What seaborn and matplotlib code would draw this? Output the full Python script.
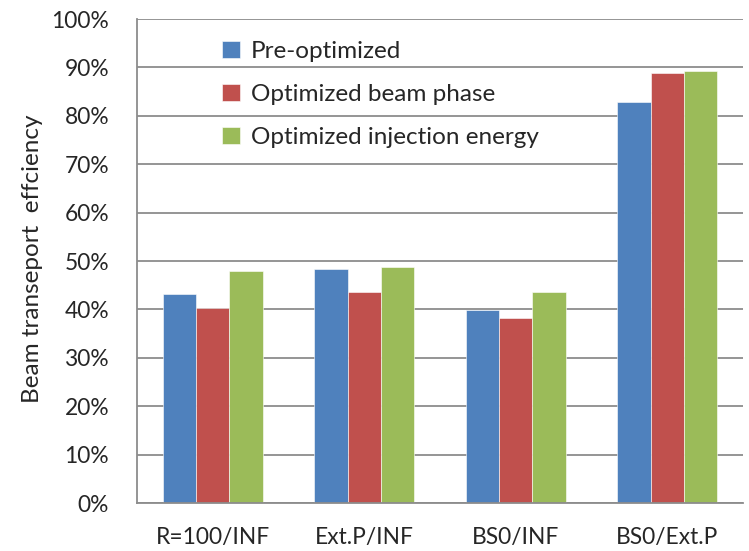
import matplotlib
matplotlib.use("Agg")
import matplotlib.pyplot as plt
from matplotlib.ticker import FixedLocator, PercentFormatter
import seaborn as sns
import pandas as pd

categories = ["R=100/INF", "Ext.P/INF", "BS0/INF", "BS0/Ext.P"]
series = ["Pre-optimized", "Optimized beam phase", "Optimized injection energy"]
pre_optimized = [43.2, 48.3, 39.9, 82.8]
beam_phase = [40.3, 43.5, 38.2, 88.8]
injection_energy = [47.9, 48.7, 43.5, 89.3]
yticks = [0, 10, 20, 30, 40, 50, 60, 70, 80, 90, 100]

colors = ["#4F81BD", "#C0504D", "#9BBB59"]

df = pd.DataFrame({
    "case": categories * 3,
    "series": [series[0]] * 4 + [series[1]] * 4 + [series[2]] * 4,
    "value": pre_optimized + beam_phase + injection_energy,
})

sns.set_style("white")
plt.rcParams["font.family"] = ["Lato", "DejaVu Sans"]

fig = plt.figure(figsize=(7.49, 5.51), dpi=100)
ax = fig.add_axes([137 / 749, 1 - 503 / 551, 606 / 749, 484 / 551])

sns.barplot(data=df, x="case", y="value", hue="series", order=categories,
            hue_order=series, palette=colors, width=0.66, ax=ax,
            edgecolor="#ffffff", linewidth=0.4, saturation=1, errorbar=None)

gray = "#8c8c8c"
ax.set_ylim(0, 100)
ax.set_xlim(-0.5, len(categories) - 0.5)
ax.set_yticks(yticks)
ax.yaxis.set_major_formatter(PercentFormatter(decimals=0))
ax.yaxis.grid(True, color=gray, linewidth=1.3)
ax.set_axisbelow(True)

ax.set_xticks(range(len(categories)))
ax.set_xticklabels(categories)
ax.xaxis.set_minor_locator(FixedLocator([i - 0.5 for i in range(len(categories) + 1)]))
ax.tick_params(axis="x", which="major", length=0, pad=17, labelsize=16.4)
ax.tick_params(axis="x", which="minor", length=7, width=1.3, color=gray)
ax.tick_params(axis="y", length=8, width=1.3, color=gray, pad=12, labelsize=16.4)

for side in ["top", "right"]:
    ax.spines[side].set_visible(False)
for side in ["left", "bottom"]:
    ax.spines[side].set_color(gray)
    ax.spines[side].set_linewidth(1.3)

ax.set_xlabel("")
ax.set_ylabel("Beam transeport  effciency", fontsize=17.5)
ax.yaxis.set_label_coords(-0.155, 0.505)

handles, labels = ax.get_legend_handles_labels()
ax.legend(handles, labels, loc="upper left", bbox_to_anchor=(0.125, 0.975),
          frameon=False, fontsize=17.5, handlelength=0.72, handleheight=0.72,
          handletextpad=0.45, labelspacing=0.9, borderaxespad=0)

fig.savefig("out.png", dpi=100)
